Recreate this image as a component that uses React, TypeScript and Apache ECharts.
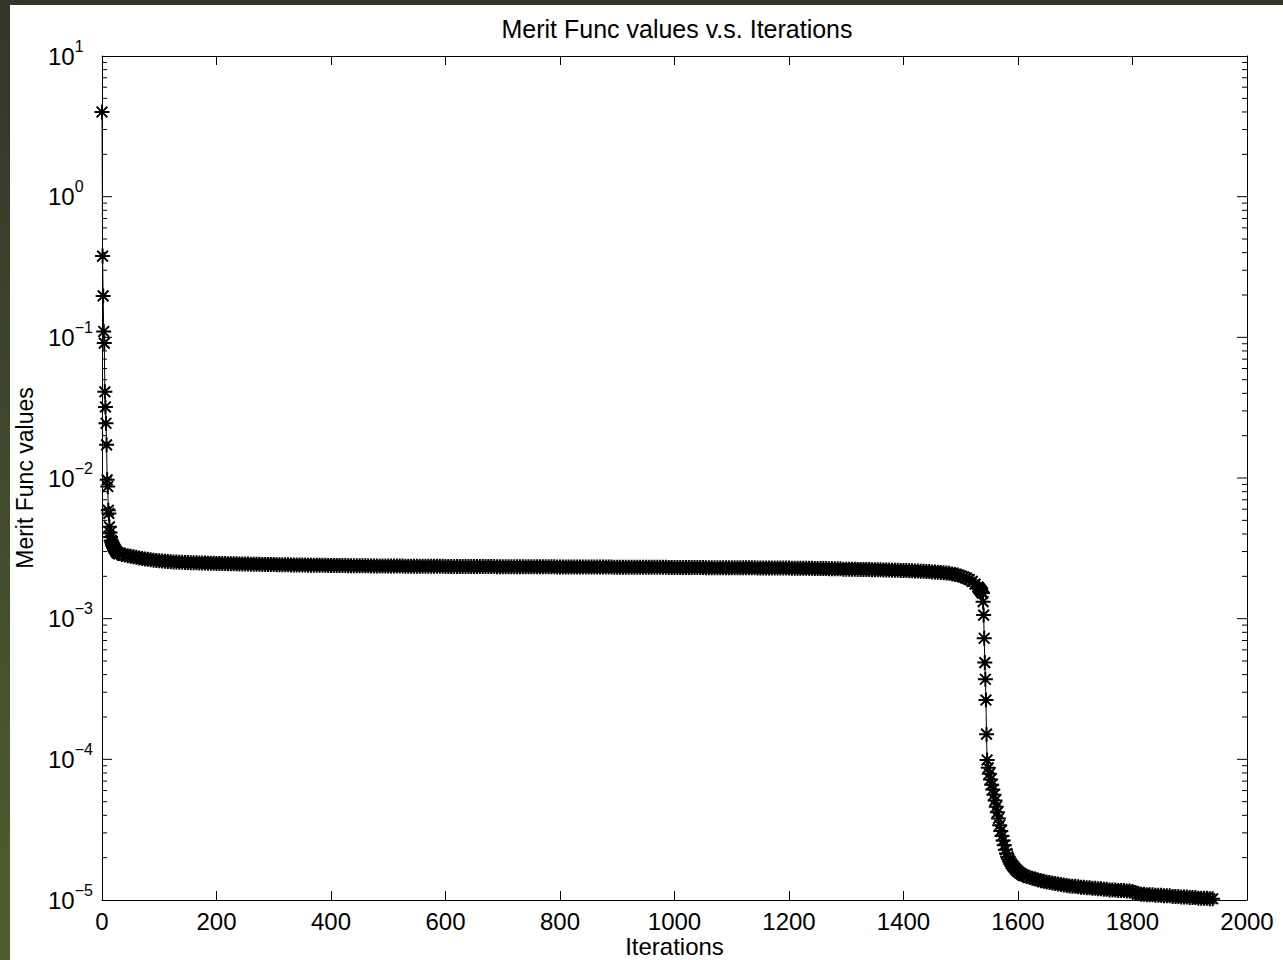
import React, { useEffect, useRef } from 'react';
import * as echarts from 'echarts';

// ---- data (iteration, merit function value) ----
// iterations 0..29, step 1
const earlyVals = [
  4.0, 0.378, 0.197, 0.11, 0.091, 0.041, 0.032, 0.0245, 0.0172, 0.0097,
  0.0087, 0.0059, 0.0056, 0.0045, 0.0041, 0.0038, 0.0036, 0.0035, 0.0034, 0.0033,
  0.00325, 0.0032, 0.00315, 0.0031, 0.00305, 0.0030, 0.00297, 0.00294, 0.00292, 0.0029,
];
// iterations 30..1530, step 5
const plateauVals = [
  2.90e-3, 2.86e-3, 2.83e-3, 2.80e-3, 2.78e-3, 2.75e-3, 2.73e-3, 2.70e-3, 2.68e-3, 2.66e-3,
  2.64e-3, 2.62e-3, 2.60e-3, 2.59e-3, 2.58e-3, 2.57e-3, 2.56e-3, 2.55e-3, 2.54e-3, 2.53e-3,
  2.53e-3, 2.52e-3, 2.52e-3, 2.51e-3, 2.51e-3, 2.50e-3, 2.50e-3, 2.50e-3, 2.49e-3, 2.49e-3,
  2.49e-3, 2.48e-3, 2.48e-3, 2.48e-3, 2.47e-3, 2.47e-3, 2.47e-3, 2.47e-3, 2.46e-3, 2.46e-3,
  2.46e-3, 2.46e-3, 2.45e-3, 2.45e-3, 2.45e-3, 2.45e-3, 2.44e-3, 2.44e-3, 2.44e-3, 2.44e-3,
  2.43e-3, 2.43e-3, 2.43e-3, 2.43e-3, 2.43e-3, 2.42e-3, 2.42e-3, 2.42e-3, 2.42e-3, 2.42e-3,
  2.41e-3, 2.41e-3, 2.41e-3, 2.41e-3, 2.41e-3, 2.41e-3, 2.40e-3, 2.40e-3, 2.40e-3, 2.40e-3,
  2.40e-3, 2.40e-3, 2.40e-3, 2.39e-3, 2.39e-3, 2.39e-3, 2.39e-3, 2.39e-3, 2.39e-3, 2.39e-3,
  2.38e-3, 2.38e-3, 2.38e-3, 2.38e-3, 2.38e-3, 2.38e-3, 2.38e-3, 2.38e-3, 2.37e-3, 2.37e-3,
  2.37e-3, 2.37e-3, 2.37e-3, 2.37e-3, 2.37e-3, 2.37e-3, 2.37e-3, 2.37e-3, 2.37e-3, 2.37e-3,
  2.36e-3, 2.36e-3, 2.36e-3, 2.36e-3, 2.36e-3, 2.36e-3, 2.36e-3, 2.36e-3, 2.36e-3, 2.36e-3,
  2.36e-3, 2.36e-3, 2.36e-3, 2.36e-3, 2.35e-3, 2.35e-3, 2.35e-3, 2.35e-3, 2.35e-3, 2.35e-3,
  2.35e-3, 2.35e-3, 2.35e-3, 2.35e-3, 2.35e-3, 2.35e-3, 2.35e-3, 2.35e-3, 2.35e-3, 2.35e-3,
  2.35e-3, 2.35e-3, 2.34e-3, 2.34e-3, 2.34e-3, 2.34e-3, 2.34e-3, 2.34e-3, 2.34e-3, 2.34e-3,
  2.34e-3, 2.34e-3, 2.34e-3, 2.34e-3, 2.34e-3, 2.34e-3, 2.34e-3, 2.34e-3, 2.34e-3, 2.34e-3,
  2.34e-3, 2.34e-3, 2.34e-3, 2.33e-3, 2.33e-3, 2.33e-3, 2.33e-3, 2.33e-3, 2.33e-3, 2.33e-3,
  2.33e-3, 2.33e-3, 2.33e-3, 2.33e-3, 2.33e-3, 2.33e-3, 2.33e-3, 2.33e-3, 2.33e-3, 2.33e-3,
  2.33e-3, 2.33e-3, 2.33e-3, 2.32e-3, 2.32e-3, 2.32e-3, 2.32e-3, 2.32e-3, 2.32e-3, 2.32e-3,
  2.32e-3, 2.32e-3, 2.32e-3, 2.32e-3, 2.32e-3, 2.32e-3, 2.32e-3, 2.32e-3, 2.32e-3, 2.32e-3,
  2.32e-3, 2.32e-3, 2.31e-3, 2.31e-3, 2.31e-3, 2.31e-3, 2.31e-3, 2.31e-3, 2.31e-3, 2.31e-3,
  2.31e-3, 2.31e-3, 2.31e-3, 2.31e-3, 2.31e-3, 2.30e-3, 2.30e-3, 2.30e-3, 2.30e-3, 2.30e-3,
  2.30e-3, 2.30e-3, 2.30e-3, 2.30e-3, 2.30e-3, 2.30e-3, 2.30e-3, 2.30e-3, 2.30e-3, 2.30e-3,
  2.30e-3, 2.30e-3, 2.30e-3, 2.29e-3, 2.29e-3, 2.29e-3, 2.29e-3, 2.29e-3, 2.29e-3, 2.29e-3,
  2.29e-3, 2.29e-3, 2.29e-3, 2.29e-3, 2.29e-3, 2.28e-3, 2.28e-3, 2.28e-3, 2.28e-3, 2.28e-3,
  2.28e-3, 2.28e-3, 2.28e-3, 2.27e-3, 2.27e-3, 2.27e-3, 2.27e-3, 2.27e-3, 2.26e-3, 2.26e-3,
  2.26e-3, 2.26e-3, 2.26e-3, 2.25e-3, 2.25e-3, 2.25e-3, 2.25e-3, 2.25e-3, 2.24e-3, 2.24e-3,
  2.24e-3, 2.24e-3, 2.24e-3, 2.23e-3, 2.23e-3, 2.23e-3, 2.23e-3, 2.22e-3, 2.22e-3, 2.22e-3,
  2.21e-3, 2.21e-3, 2.21e-3, 2.20e-3, 2.20e-3, 2.20e-3, 2.19e-3, 2.19e-3, 2.18e-3, 2.18e-3,
  2.17e-3, 2.17e-3, 2.16e-3, 2.16e-3, 2.15e-3, 2.15e-3, 2.14e-3, 2.13e-3, 2.12e-3, 2.11e-3,
  2.10e-3, 2.08e-3, 2.06e-3, 2.04e-3, 2.01e-3, 1.98e-3, 1.94e-3, 1.90e-3, 1.84e-3, 1.76e-3,
  1.68e-3,
];
// iterations 1531..1546, step 1
const dropVals = [
  1.66e-3, 1.64e-3, 1.62e-3, 1.60e-3, 1.58e-3, 1.56e-3, 1.54e-3, 1.52e-3,
  1.32e-3, 1.06e-3, 7.26e-4, 4.87e-4, 3.71e-4, 2.64e-4, 1.51e-4, 9.9e-5,
];
// iterations 1548..1610, step 2
const decayVals = [
  8.7e-5, 7.9e-5, 7.2e-5, 6.6e-5, 6.1e-5, 5.6e-5, 5.1e-5, 4.6e-5, 4.2e-5, 3.8e-5,
  3.4e-5, 3.1e-5, 2.85e-5, 2.65e-5, 2.45e-5, 2.28e-5, 2.14e-5, 2.03e-5, 1.95e-5, 1.88e-5,
  1.82e-5, 1.77e-5, 1.73e-5, 1.69e-5, 1.65e-5, 1.62e-5, 1.59e-5, 1.57e-5, 1.55e-5, 1.53e-5,
  1.51e-5, 1.49e-5,
];
// iterations 1615..1940, step 5
const tailVals = [
  1.47e-5, 1.45e-5, 1.43e-5, 1.41e-5, 1.39e-5, 1.37e-5, 1.36e-5, 1.34e-5, 1.33e-5, 1.32e-5,
  1.31e-5, 1.30e-5, 1.29e-5, 1.28e-5, 1.27e-5, 1.26e-5, 1.25e-5, 1.25e-5, 1.24e-5, 1.23e-5,
  1.23e-5, 1.22e-5, 1.22e-5, 1.21e-5, 1.21e-5, 1.20e-5, 1.20e-5, 1.19e-5, 1.19e-5, 1.18e-5,
  1.18e-5, 1.18e-5, 1.17e-5, 1.17e-5, 1.17e-5, 1.16e-5, 1.16e-5, 1.15e-5, 1.13e-5, 1.11e-5,
  1.10e-5, 1.10e-5, 1.09e-5, 1.09e-5, 1.09e-5, 1.08e-5, 1.08e-5, 1.08e-5, 1.07e-5, 1.07e-5,
  1.07e-5, 1.06e-5, 1.06e-5, 1.06e-5, 1.05e-5, 1.05e-5, 1.05e-5, 1.04e-5, 1.04e-5, 1.04e-5,
  1.03e-5, 1.03e-5, 1.03e-5, 1.03e-5, 1.02e-5, 1.02e-5,
];

const segments = [
  { start: 0, step: 1, values: earlyVals },
  { start: 30, step: 5, values: plateauVals },
  { start: 1531, step: 1, values: dropVals },
  { start: 1548, step: 2, values: decayVals },
  { start: 1615, step: 5, values: tailVals },
];

const xTickInterval = 200;
const xMin = 0;
const xMax = 2000;
const yMin = 1e-5;
const yMax = 10;
const minorMultipliers = [2, 3, 4, 5, 6, 7, 8, 9];
const decadeExps = [-5, -4, -3, -2, -1, 0];
const majorExps = [-4, -3, -2, -1, 0];

const titleText = 'Merit Func values v.s. Iterations';
const xName = 'Iterations';
const yName = 'Merit Func values';

const FONT = '"Liberation Sans", Arial, Helvetica, sans-serif';
const ASTERISK = 'path://M0,7L14,7M7,0L7,14M2,2L12,12M12,2L2,12';

export default function App() {
  const ref = useRef<HTMLDivElement>(null);

  useEffect(() => {
    document.body.style.margin = '0';
    if (!ref.current) return;
    const chart = echarts.init(ref.current, undefined, { renderer: 'svg' });

    const seriesData = segments.flatMap((s) =>
      s.values.map((v, i) => [s.start + i * s.step, v])
    );
    // y-axis tick marks on the left/right frame: [x, value, length]
    const tickData: number[][] = [];
    decadeExps.forEach((e) =>
      minorMultipliers.forEach((m) => tickData.push([xMin, m * Math.pow(10, e), 5]))
    );
    majorExps.forEach((e) => tickData.push([xMin, Math.pow(10, e), 10]));

    const expText = (v: number) => {
      const e = Math.round(Math.log10(v));
      return e < 0 ? '\u2212' + String(-e) : String(e);
    };

    const option: any = {
      animation: false,
      backgroundColor: '#ffffff',
      textStyle: { fontFamily: FONT },
      grid: {
        left: 102,
        right: 36,
        top: 56,
        bottom: 60,
        containLabel: false,
        outerBoundsMode: 'none',
      },
      graphic: [
        {
          type: 'rect',
          silent: true,
          shape: { x: 0, y: 0, width: 1283, height: 5 },
          style: { fill: '#33352a' },
          z: 100,
        },
        {
          type: 'rect',
          silent: true,
          shape: { x: 0, y: 0, width: 10, height: 960 },
          style: {
            fill: new echarts.graphic.LinearGradient(0, 0, 0, 1, [
              { offset: 0, color: '#33352a' },
              { offset: 1, color: '#4e5e2f' },
            ]),
          },
          z: 100,
        },
        {
          type: 'text',
          silent: true,
          x: 677,
          y: 29,
          style: {
            text: titleText,
            font: `25px ${FONT}`,
            fill: '#000',
            textAlign: 'center',
            textVerticalAlign: 'middle',
            align: 'center',
            verticalAlign: 'middle',
          },
        },
      ],
      xAxis: [
        {
          type: 'value',
          min: xMin,
          max: xMax,
          interval: xTickInterval,
          name: xName,
          nameLocation: 'middle',
          nameGap: 34,
          nameMoveOverlap: false,
          nameTextStyle: { fontSize: 24, lineHeight: 24, color: '#000', fontFamily: FONT },
          axisLine: { show: true, onZero: false, lineStyle: { color: '#000', width: 1 } },
          axisTick: { show: true, inside: true, length: 9, lineStyle: { color: '#000' } },
          axisLabel: {
            fontSize: 24,
            color: '#000',
            margin: 9,
            fontFamily: FONT,
            formatter: (v: number) => String(v),
          },
          splitLine: { show: false },
        },
        {
          type: 'value',
          position: 'top',
          min: xMin,
          max: xMax,
          interval: xTickInterval,
          axisLine: { show: true, onZero: false, lineStyle: { color: '#000', width: 1 } },
          axisTick: { show: true, inside: true, length: 9, lineStyle: { color: '#000' } },
          axisLabel: { show: false },
          splitLine: { show: false },
        },
      ],
      yAxis: [
        {
          type: 'log',
          logBase: 10,
          min: yMin,
          max: yMax,
          splitNumber: 6,
          name: yName,
          nameLocation: 'middle',
          nameGap: 66,
          nameMoveOverlap: false,
          nameTextStyle: { fontSize: 23, color: '#000', fontFamily: FONT },
          axisLine: { show: true, onZero: false, lineStyle: { color: '#000', width: 1 } },
          axisTick: { show: false },
          axisLabel: {
            align: 'left',
            margin: 54,
            color: '#000',
            formatter: (v: number) => `{b|10}{e|${expText(v)}}`,
            rich: {
              b: { fontSize: 24, color: '#000', fontFamily: FONT },
              e: { fontSize: 16, color: '#000', fontFamily: FONT, padding: [0, 0, 20, 0] },
            },
          },
          splitLine: { show: false },
        },
        {
          type: 'log',
          logBase: 10,
          position: 'right',
          min: yMin,
          max: yMax,
          splitNumber: 6,
          axisLine: { show: true, onZero: false, lineStyle: { color: '#000', width: 1 } },
          axisTick: { show: false },
          axisLabel: { show: false },
          splitLine: { show: false },
        },
      ],
      series: [
        {
          type: 'custom',
          xAxisIndex: 0,
          yAxisIndex: 0,
          silent: true,
          clip: false,
          data: tickData,
          renderItem: (params: any, api: any) => {
            const v = api.value(1);
            const len = api.value(2);
            const l = api.coord([xMin, v]);
            const r = api.coord([xMax, v]);
            return {
              type: 'group',
              children: [
                {
                  type: 'line',
                  shape: { x1: l[0], y1: l[1], x2: l[0] + len, y2: l[1] },
                  style: { stroke: '#000', lineWidth: 1 },
                },
                {
                  type: 'line',
                  shape: { x1: r[0] - len, y1: r[1], x2: r[0], y2: r[1] },
                  style: { stroke: '#000', lineWidth: 1 },
                },
              ],
            };
          },
          z: 1,
        },
        {
          type: 'line',
          xAxisIndex: 0,
          yAxisIndex: 0,
          data: seriesData,
          symbol: ASTERISK,
          symbolSize: 15,
          showAllSymbol: true,
          clip: false,
          silent: true,
          lineStyle: { color: '#000', width: 1 },
          itemStyle: { color: '#000', borderColor: '#000', borderWidth: 2 },
          emphasis: { disabled: true },
          z: 3,
        },
      ],
    };

    chart.setOption(option);
    return () => chart.dispose();
  }, []);

  return <div ref={ref} style={{ width: 1283, height: 960 }} />;
}
